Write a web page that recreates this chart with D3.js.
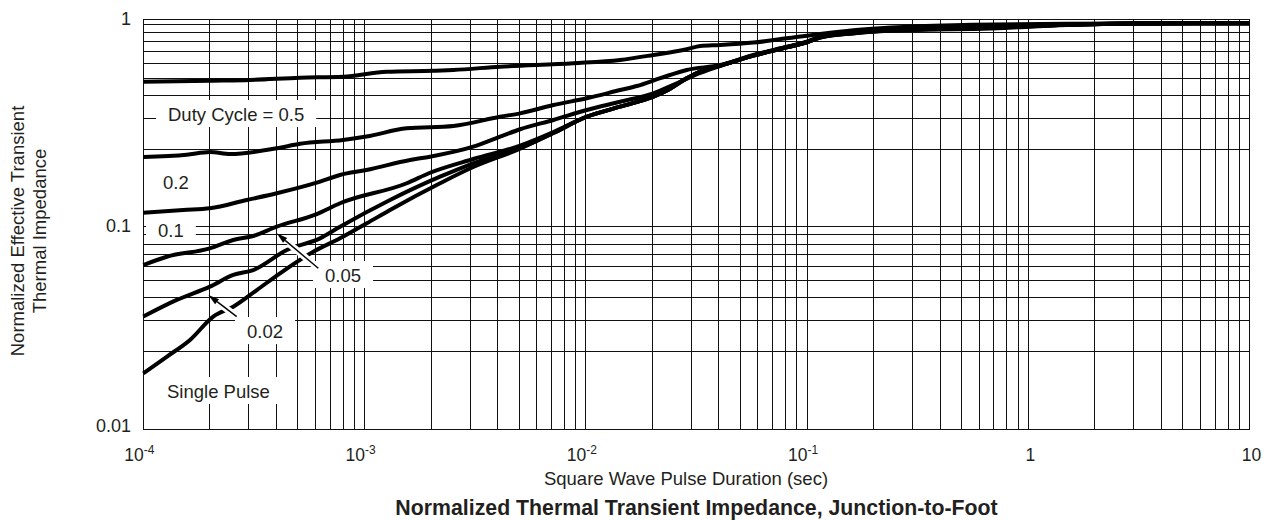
<!DOCTYPE html>
<html><head><meta charset="utf-8">
<script src="https://cdn.jsdelivr.net/npm/d3@7"></script>
<style>
body{margin:0;background:#fff}
svg{display:block}
text{font-family:"Liberation Sans",Arial,Helvetica,sans-serif;fill:#231f20}
</style>
</head><body>
<svg id="chart" width="1273" height="520"></svg>
<script>
// ---------------- data ----------------
const xTickValues = [1e-4, 1e-3, 1e-2, 1e-1, 1, 10];
const xTickBase   = ["10", "10", "10", "10", "1", "10"];
const xTickExp    = ["-4", "-3", "-2", "-1", "", ""];
const yTickValues = [0.01, 0.1, 1];
const yTickLabels = ["0.01", "0.1", "1"];
// horizontal grid lines as drawn in the reference
const yGridValues = [0.946, 0.862, 0.780, 0.696, 0.609, 0.518, 0.428, 0.334, 0.236,
                     0.091, 0.0821, 0.0731, 0.0637, 0.0541, 0.0446, 0.0346, 0.0242];
const seriesNames = ["Duty Cycle = 0.5", "0.2", "0.1", "0.05", "0.02", "Single Pulse"];

// [pulse duration (s), normalized Zth]
const duty050 = [[1e-4,0.500],[2e-4,0.506],[3.04e-4,0.510],[5.11e-4,0.523],[8.0e-4,0.529],[1.26e-3,0.559],
  [2.05e-3,0.565],[2.52e-3,0.570],[4.1e-3,0.591],[8.79e-3,0.614],[0.0143,0.637],[0.0202,0.673],[0.0286,0.717],
  [0.0329,0.744],[0.0405,0.752],[0.0572,0.772],[0.081,0.81],[0.1146,0.85],[0.162,0.885],[0.214,0.905],
  [0.373,0.93],[0.56,0.94],[1.5,0.952],[3,0.955],[10,0.957]];
const duty020 = [[1e-4,0.217],[1.57e-4,0.222],[2e-4,0.229],[2.47e-4,0.224],[4.01e-4,0.239],[5.11e-4,0.251],
  [8.0e-4,0.262],[1.02e-3,0.272],[1.55e-3,0.298],[2.52e-3,0.306],[4.1e-3,0.339],[5.05e-3,0.352],[7.14e-3,0.386],
  [0.0101,0.416],[0.0143,0.456],[0.017,0.477],[0.0217,0.52],[0.0286,0.57],[0.0405,0.602],[0.0572,0.673],
  [0.081,0.738],[0.0998,0.78],[0.1146,0.824],[0.162,0.868],[0.214,0.89],[0.373,0.912],[0.56,0.925],[1.5,0.947],
  [3,0.955],[10,0.957]];
const duty010 = [[1e-4,0.1168],[1.516e-4,0.1204],[2e-4,0.1227],[2.935e-4,0.1345],[4.01e-4,0.1449],[6.08e-4,0.163],
  [7.75e-4,0.1776],[1.02e-3,0.1876],[1.606e-3,0.2098],[1.977e-3,0.2176],[3.1e-3,0.2431],[4.1e-3,0.2716],
  [5.05e-3,0.295],[7.14e-3,0.327],[0.0101,0.3653],[0.0143,0.4004],[0.0202,0.4397],[0.0258,0.4915],[0.0329,0.551],
  [0.0405,0.597],[0.0572,0.67],[0.081,0.735],[0.0998,0.777],[0.1146,0.82],[0.162,0.862],[0.214,0.885],
  [0.373,0.905],[0.56,0.915],[1.5,0.944],[3,0.955],[10,0.957]];
const duty005 = [[1e-4,0.0647],[1.276e-4,0.0711],[2e-4,0.0782],[2.55e-4,0.086],[3.14e-4,0.09],[4.01e-4,0.1],
  [6.08e-4,0.115],[7.75e-4,0.1297],[1.552e-3,0.162],[1.977e-3,0.182],[3.1e-3,0.212],[5.05e-3,0.246],[7.14e-3,0.286],
  [0.0101,0.339],[0.0143,0.379],[0.0202,0.4234],[0.0235,0.456],[0.0286,0.5195],[0.0329,0.56],[0.0405,0.597],
  [0.0572,0.668],[0.081,0.733],[0.0998,0.775],[0.1146,0.818],[0.162,0.858],[0.214,0.88],[0.373,0.9],[0.56,0.908],
  [1.5,0.942],[3,0.955],[10,0.957]];
const duty002 = [[1e-4,0.036],[1.416e-4,0.0435],[2e-4,0.0506],[2.55e-4,0.0578],[3.14e-4,0.0611],[4.45e-4,0.0767],
  [6.29e-4,0.0876],[7.75e-4,0.1],[1.304e-3,0.1345],[2.194e-3,0.1742],[3.1e-3,0.2022],[5.05e-3,0.2400],
  [7.14e-3,0.283],[0.0101,0.339],[0.0143,0.379],[0.0202,0.4234],[0.0235,0.456],[0.0286,0.5195],[0.0329,0.56],
  [0.0405,0.597],[0.0572,0.668],[0.081,0.733],[0.0998,0.775],[0.1146,0.817],[0.162,0.856],[0.214,0.877],
  [0.373,0.896],[0.56,0.903],[1.5,0.94],[3,0.955],[10,0.957]];
const singlePulse = [[1e-4,0.0189],[1.276e-4,0.0228],[1.626e-4,0.0276],[2.07e-4,0.036],[2.55e-4,0.0403],
  [3.26e-4,0.0487],[4.15e-4,0.0589],[5.87e-4,0.0753],[7.75e-4,0.0876],[1.023e-3,0.1038],[1.304e-3,0.1204],
  [2.194e-3,0.162],[3.1e-3,0.194],[5.05e-3,0.238],[7.14e-3,0.283],[0.0101,0.339],[0.0143,0.379],[0.0202,0.4234],
  [0.0235,0.456],[0.0286,0.5195],[0.0329,0.56],[0.0405,0.597],[0.0572,0.668],[0.081,0.733],[0.0998,0.775],
  [0.1146,0.816],[0.162,0.855],[0.214,0.875],[0.373,0.893],[0.56,0.898],[1.5,0.938],[3,0.955],[10,0.957]];
const seriesData = [duty050, duty020, duty010, duty005, duty002, singlePulse];

// ---------------- layout ----------------
const svg = d3.select("#chart");
const x = d3.scaleLog().domain([1e-4, 10]).range([143.3, 1249.5]);
const y = d3.scaleLog().domain([0.01, 0.1, 1]).range([429.3, 226.7, 19.3]);

const grid = svg.append("g").attr("stroke", "#111").attr("stroke-width", 1).attr("shape-rendering", "crispEdges");
const xGrid = [];
for (let e = -4; e <= 0; e++) for (let m = 1; m <= 9; m++) xGrid.push(m * Math.pow(10, e));
xGrid.push(10);
grid.selectAll("line.vx").data(xGrid).join("line")
  .attr("x1", d => x(d)).attr("x2", d => x(d)).attr("y1", y(1)).attr("y2", y(0.01));
grid.selectAll("line.hy").data(yGridValues.concat(yTickValues)).join("line")
  .attr("x1", x(1e-4)).attr("x2", x(10)).attr("y1", d => y(d)).attr("y2", d => y(d));

// curve label positions (data coordinates of text start / baseline)
const labelSpecs = [
  {text: seriesNames[0], t: 1.293e-4, z: 0.3233},
  {text: seriesNames[1], t: 1.228e-4, z: 0.152},
  {text: seriesNames[2], t: 1.166e-4, z: 0.089},
  {text: seriesNames[3], t: 6.63e-4, z: 0.0533},
  {text: seriesNames[4], t: 2.943e-4, z: 0.0282},
  {text: seriesNames[5], t: 1.28e-4, z: 0.01427}
];
const boxG = svg.append("g");

// curves
const line = d3.line().x(d => x(d[0])).y(d => y(d[1])).curve(d3.curveMonotoneX);
svg.append("g").selectAll("path").data(seriesData).join("path")
  .attr("d", line).attr("fill", "none").attr("stroke", "#000")
  .attr("stroke-width", 4).attr("stroke-linejoin", "round");

// arrows
const arrows = [
  {from: [6.18e-4, 0.0623], to: [4.01e-4, 0.0928]},
  {from: [2.644e-4, 0.036], to: [1.967e-4, 0.046]}
];
const arrG = svg.append("g");
arrows.forEach(a => {
  const x0 = x(a.from[0]), y0 = y(a.from[1]), x1 = x(a.to[0]), y1 = y(a.to[1]);
  const k = 0.72;
  arrG.append("line").attr("x1", x0).attr("y1", y0)
    .attr("x2", x0 + (x1 - x0) * k).attr("y2", y0 + (y1 - y0) * k)
    .attr("stroke", "#fff").attr("stroke-width", 7);
  const ang = Math.atan2(y1 - y0, x1 - x0);
  const hl = 11, hw = 3.2;
  const bx = x1 - hl * Math.cos(ang), by = y1 - hl * Math.sin(ang);
  arrG.append("line").attr("x1", x0).attr("y1", y0).attr("x2", bx).attr("y2", by)
    .attr("stroke", "#000").attr("stroke-width", 1.4);
  const px = -Math.sin(ang), py = Math.cos(ang);
  arrG.append("path")
    .attr("d", `M${x1},${y1}L${bx + px * hw},${by + py * hw}L${bx - px * hw},${by - py * hw}Z`)
    .attr("fill", "#000");
});

// curve labels
const labelG = svg.append("g");
labelSpecs.forEach(s => {
  const t = labelG.append("text").attr("x", x(s.t)).attr("y", y(s.z))
    .attr("font-size", 18.5).text(s.text);
  const b = t.node().getBBox();
  boxG.append("rect").attr("x", b.x - 12).attr("y", b.y - 4)
    .attr("width", b.width + 24).attr("height", b.height + 6).attr("fill", "#fff");
});

// tick labels
const yl = svg.append("g");
yTickValues.forEach((v, i) => {
  yl.append("text").attr("x", 131).attr("y", y(v) + (v < 0.05 ? 3 : 5.5)).attr("text-anchor", "end")
    .attr("font-size", 18).text(yTickLabels[i]);
});
const xl = svg.append("g");
xTickValues.forEach((v, i) => {
  const hasExp = !!xTickExp[i];
  const t = xl.append("text").attr("y", 461).attr("font-size", 17.5)
    .attr("x", hasExp ? x(v) - 19 : x(v) + 2)
    .attr("text-anchor", hasExp ? "start" : "middle");
  t.append("tspan").text(xTickBase[i]);
  if (hasExp) t.append("tspan").attr("font-size", 12).attr("dy", -7).text(xTickExp[i]);
});

// axis titles
svg.append("text").attr("x", 686).attr("y", 485).attr("text-anchor", "middle")
  .attr("font-size", 18.5).text("Square Wave Pulse Duration (sec)");
svg.append("text").attr("x", 696.5).attr("y", 515).attr("text-anchor", "middle")
  .attr("font-size", 21.3).attr("font-weight", "bold")
  .text("Normalized Thermal Transient Impedance, Junction-to-Foot");
const yt = svg.append("text").attr("transform", "translate(24,231) rotate(-90)")
  .attr("text-anchor", "middle").attr("font-size", 18.5);
yt.append("tspan").attr("x", 0).attr("dy", 0).text("Normalized Effective Transient");
yt.append("tspan").attr("x", 0).attr("dy", 22).text("Thermal Impedance");
</script>
</body></html>
